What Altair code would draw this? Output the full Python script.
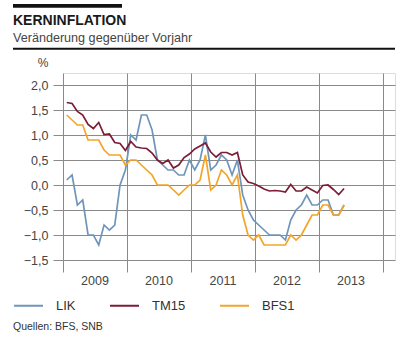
import altair as alt
import pandas as pd

# Monthly values, Jan 2009 .. May 2013
lik = [0.1, 0.2, -0.4, -0.3, -1.0, -1.0, -1.2, -0.8, -0.9, -0.8, 0.0, 0.3,
       1.0, 0.9, 1.4, 1.4, 1.1, 0.5, 0.4, 0.3, 0.3, 0.2, 0.2, 0.5,
       0.3, 0.5, 1.0, 0.3, 0.4, 0.6, 0.5, 0.2, 0.5, -0.2, -0.5, -0.7,
       -0.8, -0.9, -1.0, -1.0, -1.0, -1.1, -0.7, -0.5, -0.4, -0.2, -0.4, -0.4,
       -0.3, -0.3, -0.6, -0.6, -0.4]
tm15 = [1.65, 1.63, 1.47, 1.4, 1.21, 1.13, 1.25, 1.01, 1.02, 0.85, 0.83, 0.69,
        0.87, 0.76, 0.74, 0.73, 0.64, 0.5, 0.43, 0.5, 0.34, 0.4, 0.55, 0.62,
        0.72, 0.78, 0.84, 0.66, 0.56, 0.65, 0.65, 0.6, 0.65, 0.2, 0.06, 0.03,
        -0.02, -0.08, -0.12, -0.11, -0.12, -0.14, 0.01, -0.12, -0.12, -0.04, -0.1, -0.16,
        -0.01, 0.0, -0.09, -0.19, -0.07]
bfs1 = [1.4, 1.3, 1.2, 1.2, 0.9, 0.9, 0.9, 0.7, 0.6, 0.6, 0.6, 0.4,
        0.5, 0.5, 0.4, 0.3, 0.2, 0.0, 0.0, 0.0, -0.1, -0.2, -0.1, 0.0,
        0.0, 0.1, 0.6, -0.1, 0.0, 0.3, 0.2, 0.0, 0.2, -0.6, -1.0, -1.1,
        -1.0, -1.2, -1.2, -1.2, -1.2, -1.2, -1.0, -1.1, -1.0, -0.8, -0.6, -0.6,
        -0.4, -0.4, -0.6, -0.6, -0.4]

series = ["LIK", "TM15", "BFS1"]
colors = ["#6f95ba", "#7b1d36", "#f2a52b"]
years = ["2009", "2010", "2011", "2012", "2013"]
year_starts = [0, 12, 24, 36, 48, 60]
y_ticks = [-1.5, -1.0, -0.5, 0.0, 0.5, 1.0, 1.5, 2.0]

FONT = "Liberation Sans"
GRID = "#8a8a8a"

rows = []
for name, vals in zip(series, [lik, tm15, bfs1]):
    for i, v in enumerate(vals):
        rows.append({"t": i + 0.7, "v": v, "s": name})
df = pd.DataFrame(rows)

lines = alt.Chart(df).mark_line(strokeWidth=1.7, clip=False).encode(
    x=alt.X("t:Q", scale=alt.Scale(domain=[0, 62.25], nice=False, zero=False),
            axis=alt.Axis(values=year_starts, labels=False, tickSize=12, grid=True,
                          domain=False, title=None, gridColor=GRID, tickColor=GRID,
                          gridWidth=1, tickWidth=1)),
    y=alt.Y("v:Q", scale=alt.Scale(domain=[-1.5, 2.24], nice=False, zero=False),
            axis=alt.Axis(values=y_ticks, tickSize=10, grid=True, domain=False, title=None,
                          gridColor=GRID, tickColor=GRID, labelFont=FONT, labelFontSize=12.5,
                          labelColor="#444444", labelPadding=5,
                          labelExpr="replace(format(datum.value, '.1f'), '.', ',')")),
    color=alt.Color("s:N", sort=series, scale=alt.Scale(domain=series, range=colors),
                    legend=alt.Legend(orient="none", legendX=-50, legendY=217,
                                      direction="horizontal", title=None,
                                      symbolType="stroke", symbolSize=841,
                                      symbolStrokeWidth=2, labelFont=FONT,
                                      labelFontSize=13, labelColor="#333333",
                                      columnPadding=30, labelOffset=12)),
    detail="s:N",
    order="t:Q",
)

year_df = pd.DataFrame({"t": [s + 6 for s in year_starts[:5]], "year": years})
year_text = alt.Chart(year_df).mark_text(font=FONT, fontSize=12.5, color="#444444",
                                         baseline="middle", align="center").encode(
    x="t:Q", y=alt.value(208), text="year:N")

def label(txt, x, y, size, weight="normal", color="#333333", align="left"):
    return alt.Chart(pd.DataFrame({"label": [txt]})).mark_text(
        font=FONT, fontSize=size, fontWeight=weight, color=color, align=align,
        baseline="alphabetic").encode(x=alt.value(x), y=alt.value(y), text="label:N")

title = label("KERNINFLATION", -50, -48, 14, weight="bold", color="#1a1a1a")
subtitle = label("Veränderung gegenüber Vorjahr", -50, -31, 12.6, color="#444444")
pct = label("%", -20, -6.5, 12, color="#444444", align="center")
source = label("Quellen: BFS, SNB", -50, 257, 10.5, color="#333333")

one = pd.DataFrame({"a": [0]})
top_bar = alt.Chart(one).mark_rect(color="#111111").encode(
    x=alt.value(-50), x2=alt.value(59), y=alt.value(-69), y2=alt.value(-65.3))
sub_rule = alt.Chart(one).mark_rule(color="#111111", strokeWidth=2).encode(
    x=alt.value(-50), x2=alt.value(332), y=alt.value(-24.3))

chart = alt.layer(lines, year_text, title, subtitle, pct, source, top_bar, sub_rule).properties(
    width=332, height=187,
    padding={"left": 63, "top": 73, "right": 23, "bottom": 81},
    autosize="none",
).configure_view(stroke=None).configure(background="white")

chart.save("out.html", embed_options={"renderer": "svg", "actions": False})
